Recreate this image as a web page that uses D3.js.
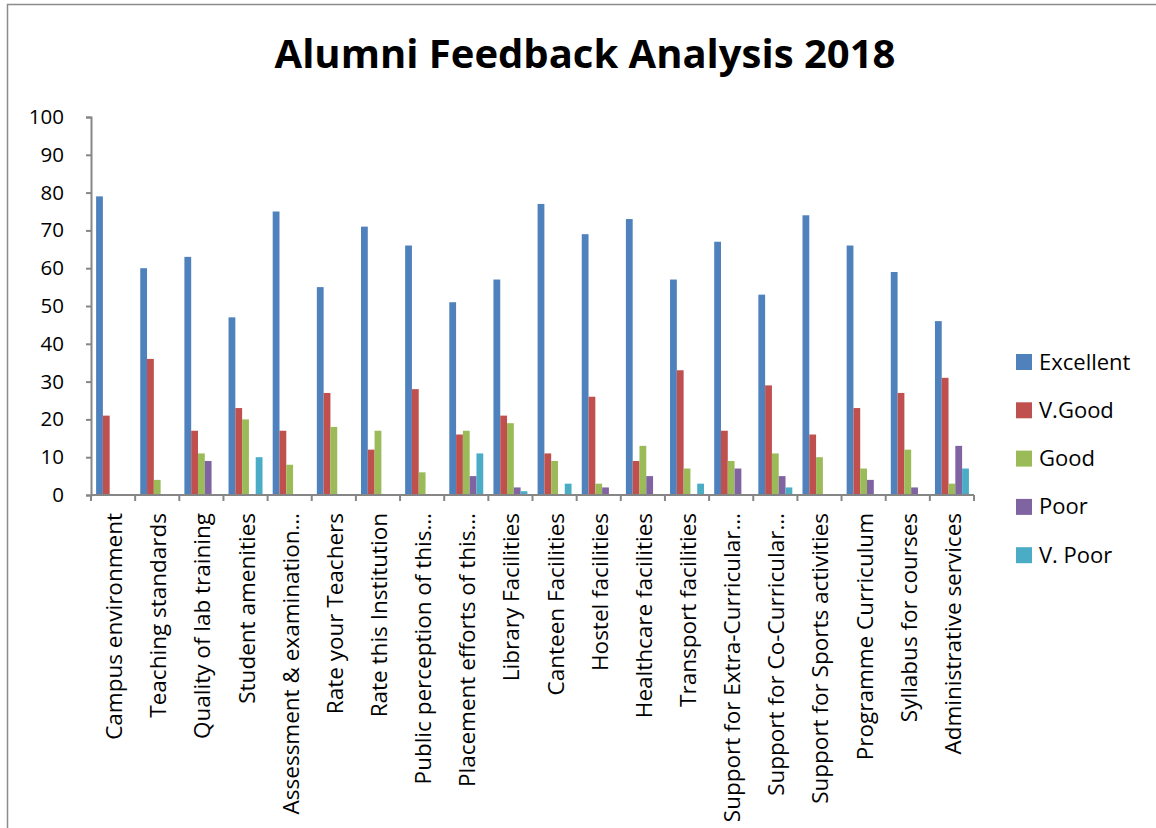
<!DOCTYPE html>
<html>
<head>
<meta charset="utf-8">
<script src="https://cdn.jsdelivr.net/npm/d3@7"></script>
<style>
  body { margin: 0; background: #fff; }
  text { font-family: "Open Sans", Lato, sans-serif; fill: #000; }
</style>
</head>
<body>
<svg width="1156" height="828"></svg>
<script>
// data
const categories = [
  "Campus environment", "Teaching standards", "Quality of lab training",
  "Student amenities", "Assessment & examination\u2026", "Rate your Teachers",
  "Rate this Institution", "Public perception of this\u2026", "Placement efforts of this\u2026",
  "Library Facilities", "Canteen Facilities", "Hostel facilities",
  "Healthcare facilities", "Transport facilities", "Support for Extra-Curricular\u2026",
  "Support for Co-Curricular\u2026", "Support for Sports activities", "Programme Curriculum",
  "Syllabus for courses", "Administrative services"
];
const seriesNames = ["Excellent", "V.Good", "Good", "Poor", "V. Poor"];
const excellent = [79, 60, 63, 47, 75, 55, 71, 66, 51, 57, 77, 69, 73, 57, 67, 53, 74, 66, 59, 46];
const vgood     = [21, 36, 17, 23, 17, 27, 12, 28, 16, 21, 11, 26,  9, 33, 17, 29, 16, 23, 27, 31];
const good      = [ 0,  4, 11, 20,  8, 18, 17,  6, 17, 19,  9,  3, 13,  7,  9, 11, 10,  7, 12,  3];
const poor      = [ 0,  0,  9,  0,  0,  0,  0,  0,  5,  2,  0,  2,  5,  0,  7,  5,  0,  4,  2, 13];
const vpoor     = [ 0,  0,  0, 10,  0,  0,  0,  0, 11,  1,  3,  0,  0,  3,  0,  2,  0,  0,  0,  7];
const yTicks = [0, 10, 20, 30, 40, 50, 60, 70, 80, 90, 100];
const colors = ["#4F81BD", "#C0504D", "#9BBB59", "#8064A2", "#4BACC6"];

const allSeries = [excellent, vgood, good, poor, vpoor];

const svg = d3.select("svg");

// chart border
svg.append("rect")
  .attr("x", 7.5).attr("y", 4.5)
  .attr("width", 1200).attr("height", 900)
  .attr("fill", "none").attr("stroke", "#8c8c8c").attr("stroke-width", 1.5);

// title
svg.append("text")
  .attr("x", 585).attr("y", 68)
  .attr("text-anchor", "middle")
  .style("font-size", "40px").style("font-weight", "bold")
  .text("Alumni Feedback Analysis 2018");

const plotLeft = 91, plotRight = 974, plotTop = 117, plotBottom = 495;

const x = d3.scaleBand().domain(d3.range(categories.length)).range([plotLeft, plotRight]);
const gapRatio = 1.5; // excel style gap width
const barW = x.bandwidth() / (seriesNames.length + gapRatio);
const xs = d3.scaleBand().domain(d3.range(seriesNames.length))
  .range([barW * gapRatio / 2, x.bandwidth() - barW * gapRatio / 2]);

const y = d3.scaleLinear().domain([0, 100]).range([plotBottom, plotTop]);

// bars
const g = svg.append("g");
allSeries.forEach((vals, s) => {
  g.selectAll(null)
    .data(vals)
    .enter()
    .append("rect")
      .attr("x", (d, i) => x(i) + xs(s))
      .attr("y", d => y(d))
      .attr("width", xs.bandwidth())
      .attr("height", d => plotBottom - y(d))
      .attr("fill", colors[s]);
});

// y axis
const yAxis = d3.axisLeft(y).tickValues(yTicks).tickSize(5).tickPadding(22);
const ya = svg.append("g").attr("transform", `translate(${plotLeft},0)`).call(yAxis);
ya.select(".domain").attr("stroke", "#868686").attr("stroke-width", 2);
ya.selectAll(".tick line").attr("stroke", "#868686").attr("stroke-width", 2);
ya.selectAll(".tick text").style("font-size", "20.5px").style("font-family", "'Open Sans', sans-serif").attr("fill", "#000");

// x axis line and ticks at category boundaries
svg.append("line")
  .attr("x1", plotLeft).attr("x2", plotRight).attr("y1", plotBottom).attr("y2", plotBottom)
  .attr("stroke", "#868686").attr("stroke-width", 2);
svg.selectAll(null)
  .data(d3.range(categories.length + 1))
  .enter()
  .append("line")
    .attr("x1", i => i < categories.length ? x(i) : plotRight)
    .attr("x2", i => i < categories.length ? x(i) : plotRight)
    .attr("y1", plotBottom).attr("y2", plotBottom + 6)
    .attr("stroke", "#868686").attr("stroke-width", 2);

// category labels (rotated)
svg.selectAll(null)
  .data(categories)
  .enter()
  .append("text")
    .attr("transform", (d, i) => `translate(${x(i) + x.bandwidth() / 2 + 9},513) rotate(-90)`)
    .attr("text-anchor", "end")
    .style("font-size", "22.5px")
    .text(d => d);

// legend
const legend = svg.selectAll(".legend")
  .data(seriesNames)
  .enter()
  .append("g")
    .attr("class", "legend")
    .attr("transform", (d, i) => `translate(1016,${362 + 48.3 * i})`);
legend.append("rect")
  .attr("x", 0).attr("y", -8).attr("width", 16).attr("height", 16)
  .attr("fill", (d, i) => colors[i]);
legend.append("text")
  .attr("x", 23).attr("y", 7.5)
  .style("font-size", "22px")
  .text(d => d);
</script>
</body>
</html>
